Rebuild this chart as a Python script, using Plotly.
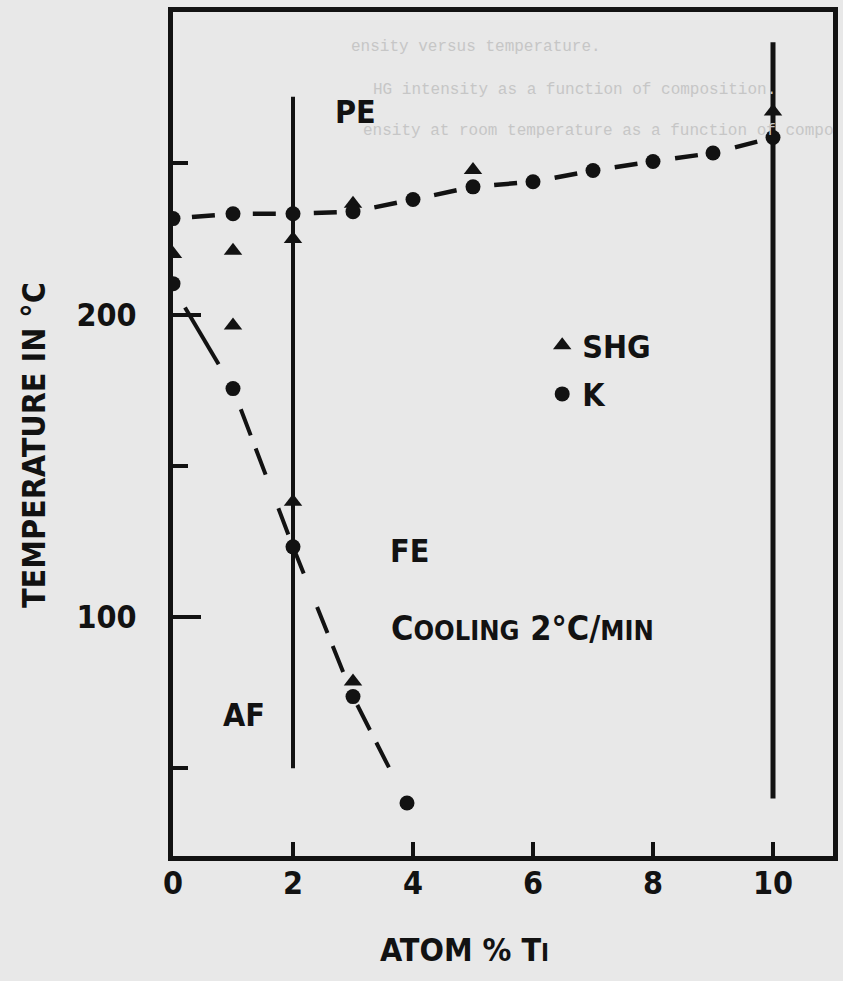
import plotly.graph_objects as go

# ---------------- data ----------------
# K (dielectric constant) transitions, upper PE-FE branch
k_upper_x = [0, 1, 2, 3, 4, 5, 6, 7, 8, 9, 10]
k_upper_y = [231.7, 233.3, 233.3, 234.0, 238.0, 242.2, 243.9, 247.6, 250.6, 253.4, 258.5]
# K lower AF-FE branch
k_lower_x = [0, 1, 2, 3, 3.9]
k_lower_y = [210.2, 175.5, 123.2, 73.7, 38.5]
# SHG transitions
shg_upper_x = [0, 1, 2, 3, 5, 10]
shg_upper_y = [220.0, 221.1, 225.0, 236.6, 247.8, 267.1]
shg_lower_x = [1, 2, 3]
shg_lower_y = [196.4, 138.1, 78.7]

# dashed AF-FE boundary drawn through the lower points
af_fe_x = [0.2, 1, 2, 3, 3.9]
af_fe_y = [202.3, 175.5, 123.2, 73.7, 38.5]

# vertical phase boundaries
phase_x = [2, 10]
phase_ymin = [50, 40]
phase_ymax = [272, 290]

x_ticks = [0, 2, 4, 6, 8, 10]
y_major = [100, 200]
y_minor = [50, 150, 250]

ghost_lines = [
    "ensity versus temperature.",
    "HG intensity as a function of composition.",
    "ensity at room temperature as a function of compo",
]

# ---------------- style ----------------
INK = "#121212"
BG = "#e8e8e8"
FONT = "DejaVu Sans Condensed"
W, H = 843, 981
L, R, T, B = 173, 5, 12, 125
PW, PH = W - L - R, H - T - B


def px(xp):
    return (xp - L) / PW


def py(yp):
    return 1 - (yp - T) / PH


fig = go.Figure()

# upper dashed line (PE-FE)
fig.add_trace(go.Scatter(
    x=k_upper_x, y=k_upper_y, mode="lines", showlegend=False, hoverinfo="skip",
    line=dict(color=INK, width=4.5, dash="0px,19px,23px,19px")))
# lower line: solid start then dashed
fig.add_trace(go.Scatter(
    x=af_fe_x[0:2], y=af_fe_y[0:2], mode="lines", showlegend=False, hoverinfo="skip",
    line=dict(color=INK, width=4, dash="66px,300px")))
fig.add_trace(go.Scatter(
    x=af_fe_x[1:], y=af_fe_y[1:], mode="lines", showlegend=False, hoverinfo="skip",
    line=dict(color=INK, width=4, dash="0px,22px,28px,14px,28px,14px")))
# vertical lines
for xv, y0, y1 in zip(phase_x, phase_ymin, phase_ymax):
    fig.add_trace(go.Scatter(
        x=[xv, xv], y=[y0, y1], mode="lines", showlegend=False, hoverinfo="skip",
        line=dict(color=INK, width=4 if xv == 2 else 5)))

# markers
fig.add_trace(go.Scatter(
    x=shg_upper_x + shg_lower_x, y=shg_upper_y + shg_lower_y, mode="markers",
    name="SHG", legendgroup="a",
    marker=dict(symbol="triangle-up", size=16, color=INK)))
fig.add_trace(go.Scatter(
    x=k_upper_x + k_lower_x, y=k_upper_y + k_lower_y, mode="markers",
    name="K", legendgroup="b",
    marker=dict(symbol="circle", size=15, color=INK)))

big = dict(family=FONT, size=32, color=INK, weight="bold")

ann = []
# region labels
ann.append(dict(x=2.67, y=266.8, xref="x", yref="y", text="PE", showarrow=False,
                xanchor="left", yanchor="middle", font=big))
ann.append(dict(x=3.58, y=121.8, xref="x", yref="y", text="FE", showarrow=False,
                xanchor="left", yanchor="middle", font=big))
ann.append(dict(x=1.18, y=67.7, xref="x", yref="y", text="AF", showarrow=False,
                xanchor="center", yanchor="middle", font=big))
ann.append(dict(x=3.6, y=96.4, xref="x", yref="y",
                text="C<span style='font-size:27px'>OOLING</span> 2°C/<span style='font-size:27px'>MIN</span>",
                showarrow=False, xanchor="left", yanchor="middle",
                font=dict(family=FONT, size=34, color=INK, weight="bold")))
# axis titles
ann.append(dict(x=px(33), y=py(445), xref="paper", yref="paper", text="TEMPERATURE IN °C",
                textangle=-90, showarrow=False, xanchor="center", yanchor="middle", font=big))
ann.append(dict(x=px(467), y=py(950), xref="paper", yref="paper",
                text="ATOM % T<span style='font-size:24px'>I</span>",
                showarrow=False, xanchor="center", yanchor="middle", font=big))
# ghost bleed-through text
ghost_pos = [(350, 47), (372, 90), (362, 131)]
for txt, (gx, gy) in zip(ghost_lines, ghost_pos):
    ann.append(dict(x=px(gx), y=py(gy), xref="paper", yref="paper", text=txt,
                    showarrow=False, xanchor="left", yanchor="middle",
                    font=dict(family="Liberation Mono", size=16, color="#c6c6c6")))

fig.update_layout(
    width=W, height=H, margin=dict(l=L, r=R, t=T, b=B, pad=0),
    paper_bgcolor=BG, plot_bgcolor=BG,
    annotations=ann,
    showlegend=True,
    legend=dict(x=px(545), y=py(318), xanchor="left", yanchor="top",
                bgcolor="rgba(0,0,0,0)", borderwidth=0, tracegroupgap=4,
                font=big),
    xaxis=dict(range=[0, 11], showgrid=False, zeroline=False,
               showline=True, linewidth=5, linecolor=INK, mirror=True,
               tickvals=x_ticks, ticktext=[str(v) for v in x_ticks],
               ticks="inside", ticklen=14, tickwidth=4, tickcolor=INK,
               ticklabelstandoff=-5,
               tickfont=big),
    yaxis=dict(range=[21, 300], showgrid=False, zeroline=False,
               showline=True, linewidth=5, linecolor=INK, mirror=True,
               tickvals=y_major, ticktext=[str(v) for v in y_major],
               ticks="inside", ticklen=28, tickwidth=4, tickcolor=INK,
               ticklabelstandoff=25,
               minor=dict(tickvals=y_minor, ticks="inside", ticklen=15,
                          tickwidth=4, tickcolor=INK),
               tickfont=big),
)

fig.write_html("out.html")
